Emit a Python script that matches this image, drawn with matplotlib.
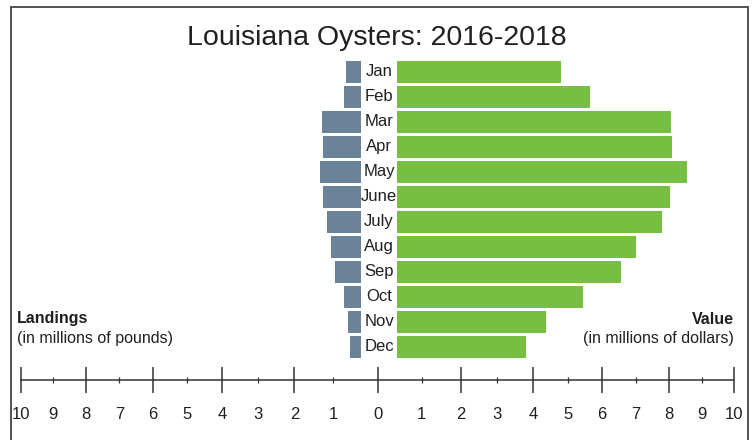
import numpy as np
import matplotlib.pyplot as plt
from matplotlib.patches import Rectangle
from matplotlib.ticker import FixedLocator, FuncFormatter

plt.rcParams['font.family'] = ['Liberation Sans', 'DejaVu Sans']

months = ['Jan', 'Feb', 'Mar', 'Apr', 'May', 'June', 'July', 'Aug', 'Sep', 'Oct', 'Nov', 'Dec']
# landings, millions of pounds
landings = [0.34, 0.39, 0.89, 0.86, 0.93, 0.86, 0.77, 0.68, 0.59, 0.39, 0.30, 0.25]
# value, millions of dollars
value = [4.82, 5.68, 8.06, 8.09, 8.53, 8.03, 7.79, 7.03, 6.59, 5.47, 4.38, 3.79]

blue = '#6b8399'
green = '#76bf43'
dark = '#333333'

W, H = 753, 440
fig = plt.figure(figsize=(W / 100, H / 100), dpi=100)

y = np.arange(len(months))
bot = 1 - 360.5 / H
hgt = 302.75 / H

# left bars (landings)
axl = fig.add_axes([200 / W, bot, 161 / W, hgt])
axl.barh(y, landings, height=0.88, color=blue)
axl.set_xlim(161 / 44, 0)
axl.set_ylim(11.55, -0.55)
axl.axis('off')

# right bars (value)
axr = fig.add_axes([397 / W, bot, 343 / W, hgt])
axr.barh(y, value, height=0.88, color=green)
axr.set_xlim(0, 343 / 34)
axr.set_ylim(11.55, -0.55)
axr.axis('off')

for i, m in enumerate(months):
    axl.annotate(m, xy=(0, i), xytext=(13, 0), textcoords='offset points',
                 ha='center', va='center', fontsize=12, color='#231f20',
                 annotation_clip=False)

# bottom scale
p = 0.905
fwd = lambda x: np.sign(x) * np.abs(x) ** p
inv = lambda x: np.sign(x) * np.abs(x) ** (1 / p)
axs = fig.add_axes([21 / W, 1 - 380 / H, 713 / W, 0.001])
axs.set_xscale('function', functions=(fwd, inv))
axs.set_xlim(-10, 10)
axs.patch.set_visible(False)
for s in ['top', 'left', 'right']:
    axs.spines[s].set_visible(False)
axs.spines['bottom'].set_color(dark)
axs.spines['bottom'].set_linewidth(1.1)
axs.set_yticks([])
axs.xaxis.set_major_locator(FixedLocator(np.arange(-10, 11, 2)))
axs.xaxis.set_minor_locator(FixedLocator(np.arange(-9, 10, 2)))
fmt = FuncFormatter(lambda v, pos: f"{abs(v):g}")
axs.xaxis.set_major_formatter(fmt)
axs.xaxis.set_minor_formatter(fmt)
axs.tick_params(axis='x', which='major', direction='inout', length=19, width=1.1,
                color=dark, pad=10, labelsize=12, labelcolor='#231f20')
axs.tick_params(axis='x', which='minor', direction='inout', length=5, width=0.9,
                color=dark, pad=17, labelsize=12, labelcolor='#231f20')

# texts
fig.text(377 / W, 1 - 38 / H, 'Louisiana Oysters: 2016-2018', ha='center', va='center',
         fontsize=20.5, color='#231f20')
fig.text(17 / W, 1 - 319 / H, 'Landings', ha='left', va='center', fontsize=11.5,
         fontweight='bold', color='#231f20')
fig.text(17 / W, 1 - 338 / H, '(in millions of pounds)', ha='left', va='center',
         fontsize=11.5, color='#231f20')
fig.text(734 / W, 1 - 319 / H, 'Value', ha='right', va='center', fontsize=11.5,
         fontweight='bold', color='#231f20')
fig.text(734 / W, 1 - 338 / H, '(in millions of dollars)', ha='right', va='center',
         fontsize=11.5, color='#231f20')

# frame
fig.add_artist(Rectangle((11 / W, -0.1), 737 / W, 1.1 - 7 / H, transform=fig.transFigure,
                         fill=False, edgecolor='#444444', linewidth=1.3))

fig.savefig('out.png', dpi=100)
